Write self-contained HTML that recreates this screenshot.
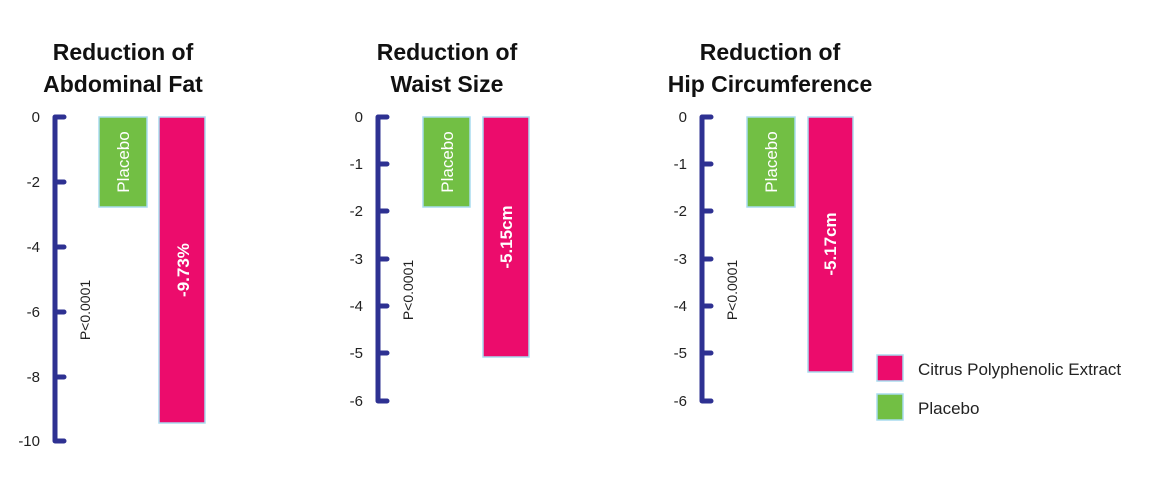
<!DOCTYPE html>
<html><head><meta charset="utf-8"><style>body{margin:0;background:#fff}svg{display:block}</style></head><body>
<svg width="1150" height="486" xmlns="http://www.w3.org/2000/svg" font-family="Liberation Sans, sans-serif">
<g font-weight="bold" font-size="23" text-anchor="middle" fill="#111">
<text x="123" y="60">Reduction of</text><text x="123" y="92">Abdominal Fat</text>
<text x="447" y="60">Reduction of</text><text x="447" y="92">Waist Size</text>
<text x="770" y="60">Reduction of</text><text x="770" y="92">Hip Circumference</text>
</g>
<g stroke="#2e3192" stroke-width="5" stroke-linecap="round" fill="none">
<path d="M55 117V441M55 117H64M55 182H64M55 247H64M55 312H64M55 377H64M55 441H64"/>
<path d="M378 117V401M378 117H387M378 164H387M378 211H387M378 259H387M378 306H387M378 353H387M378 401H387"/>
<path d="M702 117V401M702 117H711M702 164H711M702 211H711M702 259H711M702 306H711M702 353H711M702 401H711"/>
</g>
<g font-size="15" text-anchor="end" fill="#222">
<text x="40" y="122">0</text><text x="40" y="187">-2</text><text x="40" y="252">-4</text><text x="40" y="317">-6</text><text x="40" y="382">-8</text><text x="40" y="446">-10</text>
<text x="363" y="122">0</text><text x="363" y="169">-1</text><text x="363" y="216">-2</text><text x="363" y="264">-3</text><text x="363" y="311">-4</text><text x="363" y="358">-5</text><text x="363" y="406">-6</text>
<text x="687" y="122">0</text><text x="687" y="169">-1</text><text x="687" y="216">-2</text><text x="687" y="264">-3</text><text x="687" y="311">-4</text><text x="687" y="358">-5</text><text x="687" y="406">-6</text>
</g>
<g stroke="#a8dcef" stroke-width="1.5">
<rect x="99" y="117" width="48" height="90" fill="#72bf44"/><rect x="159" y="117" width="46" height="306" fill="#ec0c6c"/>
<rect x="423" y="117" width="47" height="90" fill="#72bf44"/><rect x="483" y="117" width="46" height="240" fill="#ec0c6c"/>
<rect x="747" y="117" width="48" height="90" fill="#72bf44"/><rect x="808" y="117" width="45" height="255" fill="#ec0c6c"/>
<rect x="877" y="355" width="26" height="26" fill="#ec0c6c"/><rect x="877" y="394" width="26" height="26" fill="#72bf44"/>
</g>
<g font-size="17" fill="#fff" text-anchor="middle">
<text transform="translate(129,162) rotate(-90)">Placebo</text>
<text transform="translate(453,162) rotate(-90)">Placebo</text>
<text transform="translate(777,162) rotate(-90)">Placebo</text>
<text font-weight="bold" transform="translate(189,270) rotate(-90)">-9.73%</text>
<text font-weight="bold" transform="translate(512,237) rotate(-90)">-5.15cm</text>
<text font-weight="bold" transform="translate(836,244) rotate(-90)">-5.17cm</text>
</g>
<g font-size="14" fill="#222" text-anchor="middle">
<text transform="translate(90,310) rotate(-90)">P&lt;0.0001</text>
<text transform="translate(413,290) rotate(-90)">P&lt;0.0001</text>
<text transform="translate(737,290) rotate(-90)">P&lt;0.0001</text>
</g>
<g font-size="17" fill="#222">
<text x="918" y="375">Citrus Polyphenolic Extract</text>
<text x="918" y="414">Placebo</text>
</g>
</svg>
</body></html>
